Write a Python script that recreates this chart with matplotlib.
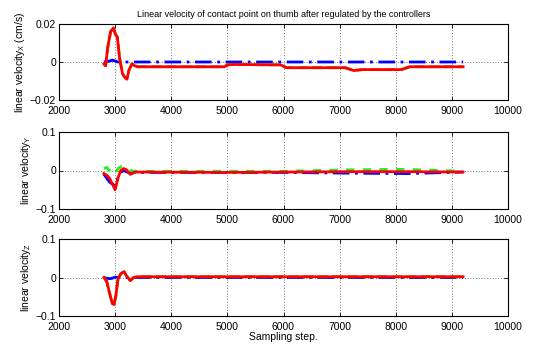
import matplotlib
matplotlib.use('Agg')
import matplotlib.pyplot as plt

# Sampling steps and values
steps_x = [2800, 2830, 2870, 2920, 2970, 3000, 3040, 3080, 3130, 3170, 3210, 3250, 3300, 3350,
           3400, 4000, 4950, 5000, 5100, 5900, 5950, 6050, 7100, 7150, 7250, 7400, 8100, 8150,
           8250, 9200]
red_x = [-0.001, -0.002, 0.008, 0.016, 0.018, 0.015, 0.013, 0.002, -0.006, -0.008, -0.009, -0.004,
         -0.001, -0.002, -0.0025, -0.0025, -0.0025, -0.0015, -0.0013, -0.0015, -0.0015, -0.003,
         -0.003, -0.0035, -0.0045, -0.004, -0.004, -0.0035, -0.0025, -0.0025]
blue_steps_x = [2800, 2900, 2950, 3000, 3050, 9200]
blue_x = [0.0, 0.0005, 0.001, 0.0005, 0.0, 0.0]

steps_y = [2800, 2850, 2900, 2950, 3000, 3050, 3100, 3150, 3200, 3270, 3350, 3500, 5000, 6000,
           7200, 8200, 9200]
red_y = [-0.008, -0.012, -0.02, -0.035, -0.05, -0.02, 0.0, 0.005, 0.002, -0.01, -0.004, -0.004,
         -0.005, -0.004, -0.003, -0.003, -0.004]
green_y = [0.005, 0.008, 0.0, -0.005, -0.01, 0.005, 0.01, 0.007, 0.005, 0.0, -0.002, -0.002,
           -0.002, -0.002, 0.002, 0.003, -0.002]
blue_y = [-0.01, -0.02, -0.03, -0.035, -0.04, -0.02, -0.005, 0.0, -0.003, -0.008, -0.005,
          -0.005, -0.005, -0.005, -0.007, -0.008, -0.004]

steps_z = [2800, 2850, 2900, 2950, 2980, 3010, 3050, 3100, 3160, 3200, 3270, 3330, 3400, 9200]
red_z = [0.0, -0.01, -0.04, -0.068, -0.07, -0.05, -0.005, 0.01, 0.015, 0.005, -0.008, 0.0,
         0.002, 0.002]
blue_z = [0.0, -0.002, -0.003, -0.002, 0.0, 0.001, 0.0, 0.0, 0.0, 0.0, 0.0, 0.0, 0.0, 0.0]

xticks = [2000, 3000, 4000, 5000, 6000, 7000, 8000, 9000, 10000]

plt.rcParams['font.family'] = ['Liberation Sans', 'DejaVu Sans']
plt.rcParams['mathtext.fontset'] = 'custom'
plt.rcParams['mathtext.rm'] = 'Liberation Sans'
plt.rcParams['mathtext.it'] = 'Liberation Sans'

fig = plt.figure(figsize=(5.49, 3.45), dpi=100)
left, width = 59 / 549, 449 / 549
boxes = [(24, 100), (132, 209), (239, 316)]
axes = []
for top, bot in boxes:
    axes.append(fig.add_axes([left, 1 - bot / 345, width, (bot - top) / 345]))

def style(ax, ylim, yticks, ylabels):
    ax.set_xlim(2000, 10000)
    ax.set_ylim(*ylim)
    ax.set_xticks(xticks)
    ax.set_yticks(yticks)
    ax.set_yticklabels(ylabels)
    ax.tick_params(labelsize=7.5, direction='in', length=3, width=0.6, top=True, right=True, pad=2)
    ax.tick_params(axis='x', pad=4)
    ax.grid(True, linestyle=(0, (1, 3)), color='black', linewidth=0.5)
    for s in ax.spines.values():
        s.set_linewidth(0.8)

ax = axes[0]
ax.plot(blue_steps_x, blue_x, color='blue', linestyle=(0, (6, 2, 1, 2)), linewidth=2)
ax.plot(steps_x, red_x, color='#66aa00', linestyle='--', linewidth=2)
ax.plot(steps_x, red_x, color='red', linewidth=2)
style(ax, (-0.02, 0.02), [-0.02, 0, 0.02], ['\u22120.02', '0', '0.02'])
ax.set_ylabel('linear velocity$_X$ (cm/s)', fontsize=7.5, labelpad=2)
ax.set_title('Linear velocity of contact point on thumb after regulated by the controllers',
             fontsize=6.5, pad=5)

ax = axes[1]
ax.plot(steps_y, blue_y, color='blue', linestyle=(0, (6, 2, 1, 2)), linewidth=2)
ax.plot(steps_y, green_y, color='#22ee22', linestyle=(0, (3, 3)), linewidth=2)
ax.plot(steps_y, red_y, color='red', linewidth=2)
style(ax, (-0.1, 0.1), [-0.1, 0, 0.1], ['\u22120.1', '0', '0.1'])
ax.set_ylabel('linear velocity$_Y$', fontsize=7.5, labelpad=2)

ax = axes[2]
ax.plot(steps_z, blue_z, color='blue', linestyle=(0, (6, 2, 1, 2)), linewidth=2)
ax.plot(steps_z, red_z, color='#66aa00', linestyle='--', linewidth=2)
ax.plot(steps_z, red_z, color='red', linewidth=2)
style(ax, (-0.1, 0.1), [-0.1, 0, 0.1], ['\u22120.1', '0', '0.1'])
ax.set_ylabel('linear velocity$_Z$', fontsize=7.5, labelpad=2)
ax.set_xlabel('Sampling step.', fontsize=7.5, labelpad=0)

fig.savefig('out.png', dpi=100)
